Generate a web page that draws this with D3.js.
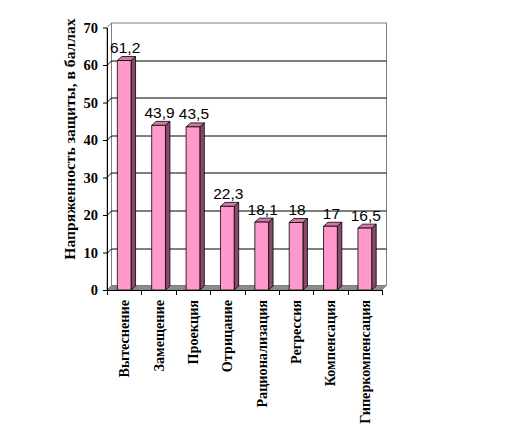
<!DOCTYPE html>
<html><head><meta charset="utf-8">
<script src="https://cdn.jsdelivr.net/npm/d3@7"></script>
<style>body{margin:0;background:#fff}</style></head><body>
<script>
const categories = ["Вытеснение","Замещение","Проекция","Отрицание","Рационализация","Регрессия","Компенсация","Гиперкомпенсация"];
const values = [61.2,43.9,43.5,22.3,18.1,18,17,16.5];
const valueLabels = ["61,2","43,9","43,5","22,3","18,1","18","17","16,5"];
const yTicks = [0,10,20,30,40,50,60,70];
const yTitle = "Напряженность защиты, в баллах";

const W=516,H=431;
const svg = d3.select("body").append("svg").attr("width",W).attr("height",H);
const x0=107, x1=382, yb=290, yt=27.5;
const wdx=4.5, wdy=4.5, bdx=4.5, bdy=4;
const y = d3.scaleLinear().domain([0,70]).range([yb,yt]);
const x = d3.scaleBand().domain(categories).range([x0,x1]).paddingInner(0.6).paddingOuter(0.3);
const bw = x.bandwidth();

// side wall
svg.append("polygon").attr("points",[[x0,yb],[x0,yt],[x0+wdx,yt-wdy],[x0+wdx,yb-wdy]].join(" "))
  .attr("fill","#fff").attr("stroke","#808080").attr("stroke-width",1);
// back wall
svg.append("rect").attr("x",x0+wdx).attr("y",yt-wdy).attr("width",x1-x0).attr("height",yb-yt)
  .attr("fill","#fff").attr("stroke","#808080").attr("stroke-width",1);
// gridlines
const g = svg.append("g").attr("stroke","#000").attr("stroke-width",1);
yTicks.filter(v=>v>0 && v<70).forEach(v=>{
  const yy = Math.round(y(v))+0.5;
  g.append("line").attr("x1",x0+wdx).attr("x2",x1+wdx).attr("y1",yy-wdy).attr("y2",yy-wdy);
  g.append("line").attr("x1",x0).attr("x2",x0+wdx).attr("y1",yy).attr("y2",yy-wdy);
});
// floor
svg.append("polygon").attr("points",[[x0,yb],[x1,yb],[x1+wdx,yb-wdy],[x0+wdx,yb-wdy]].join(" "))
  .attr("fill","#8c8c8c").attr("stroke","#777").attr("stroke-width",0.6);

// bars
const bars = svg.append("g").attr("stroke","#000").attr("stroke-width",0.8).attr("stroke-linejoin","round");
categories.forEach((c,i)=>{
  const xl = x(c), xr = xl+bw, yv = y(values[i]);
  bars.append("polygon").attr("points",[[xr,yv],[xr+bdx,yv-bdy],[xr+bdx,yb-bdy],[xr,yb]].join(" ")).attr("fill","#874a69");
  bars.append("polygon").attr("points",[[xl,yv],[xl+bdx,yv-bdy],[xr+bdx,yv-bdy],[xr,yv]].join(" ")).attr("fill","#d27aa5");
  bars.append("rect").attr("x",xl).attr("y",yv).attr("width",bw).attr("height",yb-yv).attr("fill","#ff99cc");
});

// y axis
const ya = svg.append("g").attr("transform",`translate(${x0},0)`)
  .call(d3.axisLeft(y).tickValues(yTicks).tickSize(4).tickPadding(5).tickSizeOuter(0));
ya.select(".domain").attr("stroke","#000");
ya.selectAll(".tick line").attr("stroke","#000");
ya.selectAll("text").attr("font-family","'Liberation Serif', serif").attr("font-weight","bold").attr("font-size",14.5).attr("fill","#000");

// x axis
const xa = svg.append("g").attr("transform",`translate(0,${yb})`);
xa.append("line").attr("x1",x0).attr("x2",x1).attr("y1",0.5).attr("y2",0.5).attr("stroke","#000");
d3.range(categories.length+1).forEach(i=>{
  const xx = Math.round(x0 + i*x.step())+0.5;
  xa.append("line").attr("x1",xx).attr("x2",xx).attr("y1",0).attr("y2",5).attr("stroke","#000");
});
categories.forEach(c=>{
  xa.append("text").attr("transform",`translate(${x(c)+bw/2},10) rotate(-90)`)
    .attr("text-anchor","end").attr("dy","0.35em")
    .attr("font-family","'Liberation Serif', serif").attr("font-weight","bold").attr("font-size",14.2).text(c);
});

// value labels
categories.forEach((c,i)=>{
  svg.append("text").attr("x",x(c)+bw/2+1).attr("y",y(values[i])-7.5).attr("text-anchor","middle")
    .attr("font-family","'Liberation Sans', Arial, sans-serif").attr("font-size",15.5).attr("fill","#000").text(valueLabels[i]);
});

// y title
svg.append("text").attr("transform","translate(70,139) rotate(-90)").attr("text-anchor","middle").attr("dy","0.35em")
  .attr("font-family","'Liberation Serif', serif").attr("font-weight","bold").attr("font-size",15.6).text(yTitle);
</script>
</body></html>
